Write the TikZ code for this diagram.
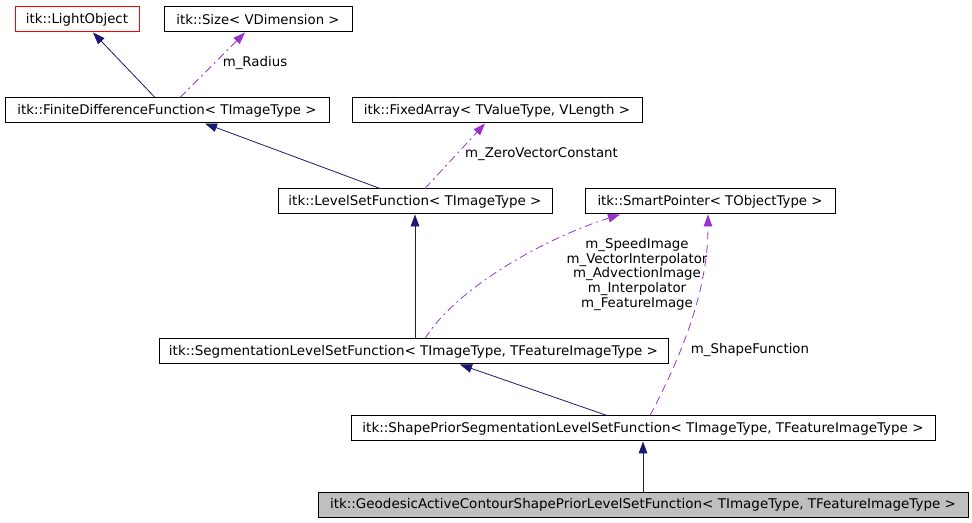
\documentclass[tikz,border=0pt]{standalone}
\usepackage{fontspec}
\setmainfont{DejaVu Sans}
\usepackage{graphicx}
\usetikzlibrary{arrows.meta, calc}
\definecolor{edgeblue}{HTML}{191970}
\definecolor{edgepurple}{HTML}{9A32CD}
\definecolor{boxgray}{HTML}{BFBFBF}
\newlength{\dpx}
\setlength{\dpx}{0.75pt}
\newcommand{\fitto}[2]{\resizebox{#1\dpx}{\height}{#2}}
\tikzset{
  classbox/.style={draw, line width=0.75pt, inner sep=0pt, minimum width=#1*\dpx,
    minimum height=25*\dpx, font=\fontsize{10}{12}\selectfont}
}
\tikzset{
  edgelabel/.style={inner sep=0pt, font=\fontsize{10}{11}\selectfont}
}
\tikzset{
  inherit/.style={->, draw=edgeblue, line width=0.6pt},
  usage/.style={->, draw=edgepurple, line width=0.6pt, dash pattern=on 6pt off 3pt on 1.5pt off 3pt}
}

\begin{document}
\begin{tikzpicture}[x=0.75pt, y=-0.75pt, >={Triangle[length=9pt,width=6.5pt]}]
      \useasboundingbox (0,0) rectangle (972,523);
      % classes
      \node[classbox=124, draw=red] (lobj) at (77,19.5) {\fitto{102}{itk::LightObject}};
      \node[classbox=188] (size) at (258,19.5) {\fitto{163}{itk::Size< VDimension >}};
      \node[classbox=324] (fdf) at (167,110.5) {\fitto{299}{itk::FiniteDifferenceFunction< TImageType >}};
      \node[classbox=290] (farr) at (497,110.5) {\fitto{266}{itk::FixedArray< TValueType, VLength >}};
      \node[classbox=274] (lsf) at (415,201.5) {\fitto{253}{itk::LevelSetFunction< TImageType >}};
      \node[classbox=250] (sptr) at (710,201.5) {\fitto{225}{itk::SmartPointer< TObjectType >}};
      \node[classbox=509] (slsf) at (413.5,351.5) {\fitto{489}{itk::SegmentationLevelSetFunction< TImageType, TFeatureImageType >}};
      \node[classbox=584] (spslsf) at (643,428.5) {\fitto{561}{itk::ShapePriorSegmentationLevelSetFunction< TImageType, TFeatureImageType >}};
      \node[classbox=650, fill=boxgray] (gacsp) at (643,505) {\fitto{626}{itk::GeodesicActiveContourShapePriorLevelSetFunction< TImageType, TFeatureImageType >}};
      % inheritance
      \draw[inherit] ($(fdf.north)+(-12,0)$) -- ($(lobj.south)+(16,0)$);
      \draw[inherit] ($(lsf.north)+(-35,0)$) -- ($(fdf.south)+(38,0)$);
      \draw[inherit] ($(slsf.north)+(1.5,0)$) -- (lsf.south);
      \draw[inherit] ($(spslsf.north)+(-36,0)$) -- ($(slsf.south)+(46.5,0)$);
      \draw[inherit] (gacsp.north) -- (spslsf.south);
      % members
      \draw[usage] ($(fdf.north)+(13,0)$) -- ($(size.south)+(-13,0)$);
      \node[edgelabel] (lradius) at (255,63) {m\_Radius};
      \draw[usage] ($(lsf.north)+(10,0)$) -- ($(farr.south)+(-12,0)$);
      \node[edgelabel] (lzero) at (541.5,154) {m\_ZeroVectorConstant};
      \draw[usage] ($(slsf.north)+(11.5,0)$) .. controls (455,290) and (540,240) .. ($(sptr.south)+(-90,0)$);
      \node[edgelabel, align=center] (lptrs) at (637,274.5) {m\_SpeedImage\\m\_VectorInterpolator\\m\_AdvectionImage\\m\_Interpolator\\m\_FeatureImage};
      \draw[usage, dash pattern=on 6pt off 4pt] ($(spslsf.north)+(7,0)$) .. controls (690,340) and (708,280) .. ($(sptr.south)+(-2,0)$);
      \node[edgelabel] (lshape) at (750,350) {m\_ShapeFunction};
\end{tikzpicture}
\end{document}
